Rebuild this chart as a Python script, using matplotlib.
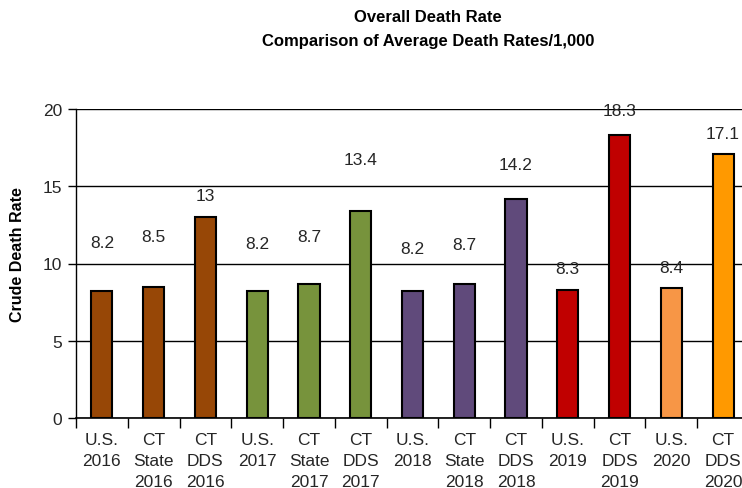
import numpy as np
import matplotlib.pyplot as plt
from matplotlib.ticker import FixedLocator, NullFormatter

plt.rcParams['font.family'] = ['Liberation Sans', 'DejaVu Sans']

# ---- data ----
categories = ["U.S.\n2016", "CT\nState\n2016", "CT\nDDS\n2016",
              "U.S.\n2017", "CT\nState\n2017", "CT\nDDS\n2017",
              "U.S.\n2018", "CT\nState\n2018", "CT\nDDS\n2018",
              "U.S.\n2019", "CT\nDDS\n2019",
              "U.S.\n2020", "CT\nDDS\n2020"]
rates = [8.2, 8.5, 13, 8.2, 8.7, 13.4, 8.2, 8.7, 14.2, 8.3, 18.3, 8.4, 17.1]
rate_text = ["8.2", "8.5", "13", "8.2", "8.7", "13.4", "8.2", "8.7", "14.2",
             "8.3", "18.3", "8.4", "17.1"]
# how far above each bar its label sits (data units)
label_lift = [3.15, 3.25, 1.4, 3.1, 3.05, 3.3, 2.8, 2.5, 2.2, 1.4, 1.6, 1.35, 1.3]
bar_colors = ["#974706", "#974706", "#974706",
              "#77933C", "#77933C", "#77933C",
              "#604A7B", "#604A7B", "#604A7B",
              "#C00000", "#C00000",
              "#F79646", "#FF9900"]

# ---- figure ----
fig = plt.figure(figsize=(7.42, 4.89), dpi=100)
ax = fig.add_axes([76 / 742, 70 / 489, 673 / 742, 309 / 489])

x = np.arange(len(rates))
ax.bar(x, rates, width=0.41, color=bar_colors, edgecolor="black",
       linewidth=1.5, zorder=3)

for xi, v, t, lift in zip(x, rates, rate_text, label_lift):
    ax.text(xi, v + lift, t, ha="center", va="center", fontsize=12.5,
            color="#262626", zorder=4)

ax.set_xlim(-0.5, len(rates) - 0.5)
ax.set_ylim(0, 20)
ax.set_yticks([0, 5, 10, 15, 20])
ax.yaxis.grid(True, color="black", linewidth=1.0, zorder=0)
ax.tick_params(axis="y", direction="out", length=6, width=1, labelsize=12.5,
               labelcolor="#262626", pad=4)

# category labels centred, tick marks on the boundaries
ax.set_xticks(x)
ax.set_xticklabels(categories, fontsize=12.5, color="#262626", linespacing=1.5)
ax.tick_params(axis="x", which="major", length=0, pad=10)
ax.xaxis.set_minor_locator(FixedLocator(np.arange(-0.5, len(rates), 1.0)))
ax.xaxis.set_minor_formatter(NullFormatter())
ax.tick_params(axis="x", which="minor", direction="out", length=7, width=1)

for side in ["top", "right"]:
    ax.spines[side].set_visible(False)
ax.spines["left"].set_linewidth(1.0)
ax.spines["bottom"].set_linewidth(1.2)

fig.text(18 / 742, 1 - 255 / 489, "Crude Death Rate", rotation=90,
         ha="center", va="center", fontsize=11.5, fontweight="bold")
fig.text(428 / 742, 1 - 18 / 489, "Overall Death Rate", ha="center",
         va="center", fontsize=12, fontweight="bold")
fig.text(428 / 742, 1 - 42 / 489, "Comparison of Average Death Rates/1,000",
         ha="center", va="center", fontsize=12, fontweight="bold")

fig.savefig("out.png", dpi=100)
